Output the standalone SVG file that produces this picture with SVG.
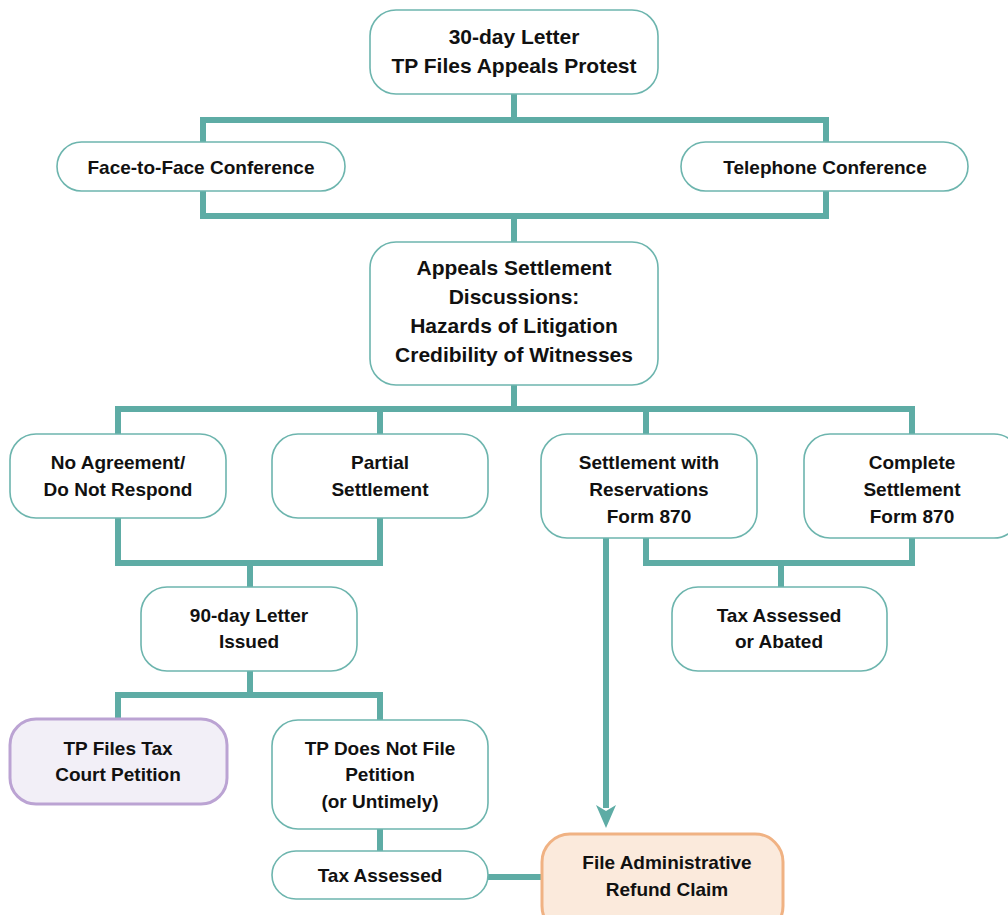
<svg xmlns="http://www.w3.org/2000/svg" width="1008" height="915" viewBox="0 0 1008 915">
<style>
.box{fill:#fff;stroke:#6db5ae;stroke-width:1.6}
.purple{fill:#f2eff7;stroke:#bba3d3;stroke-width:3}
.orange{fill:#fbeadc;stroke:#f0b283;stroke-width:3}
.conn{fill:none;stroke:#5eaca5;stroke-width:6}
text{font-family:"Liberation Sans",Arial,sans-serif;font-weight:bold;fill:#111;text-anchor:middle}
.big{font-size:21px}
.sm{font-size:19px}
</style>
<defs>
<marker id="ah" markerUnits="userSpaceOnUse" markerWidth="20" markerHeight="24" refX="10" refY="22" orient="auto-start-reverse" viewBox="0 0 20 24">
<path d="M0,0 L10,6 L20,0 L10,22 Z" fill="#5eaca5" transform="rotate(0)"/>
</marker>
</defs>
<g id="connectors">
<path class="conn" d="M514,94 V120 M203,143 V120 H826 V143"/>
<path class="conn" d="M203,191 V216 H826 V191 M514,216 V242"/>
<path class="conn" d="M514,385 V409 M118,435 V409 H912 V435 M380,409 V435 M646,409 V435"/>
<path class="conn" d="M118,518 V563 H380 V518 M250,563 V587"/>
<path class="conn" d="M646,538 V563 H912 V538 M781,563 V587"/>
<path class="conn" d="M250,671 V695 M118,720 V695 H380 V720"/>
<path class="conn" d="M380,829 V851 M488,877 H542"/>
<path class="conn" d="M606,538 V808"/>
<path d="M596,805 L606,811 L616,805 L606,828 Z" fill="#5eaca5"/>
</g>
<g id="n-30day"><rect class="box" x="370" y="10" width="288" height="84" rx="26"/><text class="big" x="514" y="44">30-day Letter</text><text class="big" x="514" y="73">TP Files Appeals Protest</text></g>
<g id="n-face"><rect class="box" x="57" y="142" width="288" height="49" rx="24.5"/><text class="sm" x="201" y="174">Face-to-Face Conference</text></g>
<g id="n-phone"><rect class="box" x="681" y="142" width="287" height="49" rx="24.5"/><text class="sm" x="825" y="174">Telephone Conference</text></g>
<g id="n-appeals"><rect class="box" x="370" y="242" width="288" height="143" rx="26"/><text class="big" x="514" y="275">Appeals Settlement</text><text class="big" x="514" y="304">Discussions:</text><text class="big" x="514" y="333">Hazards of Litigation</text><text class="big" x="514" y="362">Credibility of Witnesses</text></g>
<g id="n-noagree"><rect class="box" x="10" y="434" width="216" height="84" rx="26"/><text class="sm" x="118" y="469">No Agreement/</text><text class="sm" x="118" y="496">Do Not Respond</text></g>
<g id="n-partial"><rect class="box" x="272" y="434" width="216" height="84" rx="26"/><text class="sm" x="380" y="469">Partial</text><text class="sm" x="380" y="496">Settlement</text></g>
<g id="n-reserv"><rect class="box" x="541" y="434" width="216" height="104" rx="26"/><text class="sm" x="649" y="469">Settlement with</text><text class="sm" x="649" y="496">Reservations</text><text class="sm" x="649" y="523">Form 870</text></g>
<g id="n-complete"><rect class="box" x="804" y="434" width="216" height="104" rx="26"/><text class="sm" x="912" y="469">Complete</text><text class="sm" x="912" y="496">Settlement</text><text class="sm" x="912" y="523">Form 870</text></g>
<g id="n-90day"><rect class="box" x="141" y="587" width="216" height="84" rx="26"/><text class="sm" x="249" y="622">90-day Letter</text><text class="sm" x="249" y="648">Issued</text></g>
<g id="n-abated"><rect class="box" x="672" y="587" width="215" height="84" rx="26"/><text class="sm" x="779" y="622">Tax Assessed</text><text class="sm" x="779" y="648">or Abated</text></g>
<g id="n-taxcourt"><rect class="purple" x="10" y="719" width="217" height="85" rx="26"/><text class="sm" x="118" y="755">TP Files Tax</text><text class="sm" x="118" y="781">Court Petition</text></g>
<g id="n-nofile"><rect class="box" x="272" y="720" width="216" height="109" rx="26"/><text class="sm" x="380" y="755">TP Does Not File</text><text class="sm" x="380" y="781">Petition</text><text class="sm" x="380" y="808">(or Untimely)</text></g>
<g id="n-taxassessed"><rect class="box" x="272" y="851" width="216" height="48" rx="24"/><text class="sm" x="380" y="882">Tax Assessed</text></g>
<g id="n-refund"><rect class="orange" x="542" y="834" width="241" height="100" rx="28"/><text class="sm" x="667" y="869">File Administrative</text><text class="sm" x="667" y="896">Refund Claim</text></g>
</svg>
